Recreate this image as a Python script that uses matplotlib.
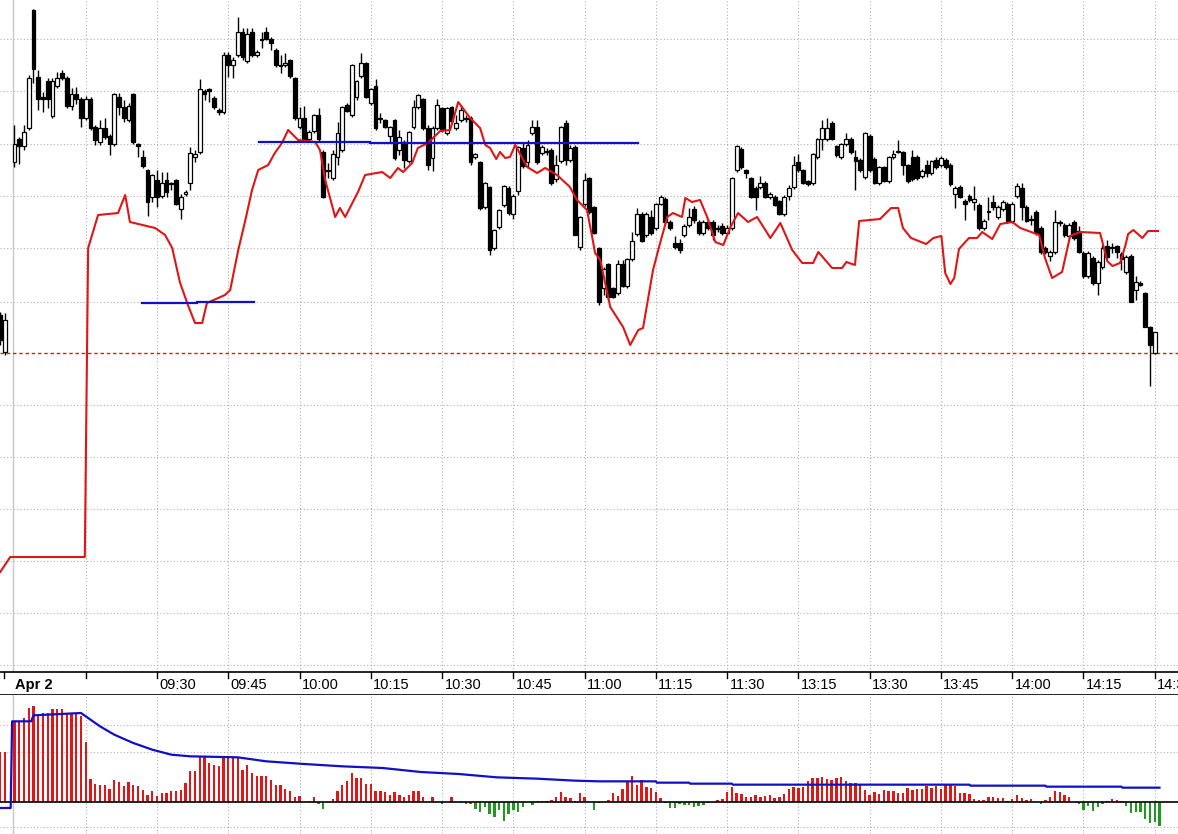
import matplotlib
matplotlib.use("Agg")
import matplotlib.pyplot as plt
import numpy as np

# ---------------- data ----------------
# bar index (1-minute bars); two bars from the previous session, then 0..240
pre_index = [-3, -2]
pre_ohlc = [(685, 688, 655, 660), (648, 687, 645, 680)]

# (open, high, low, close) for bars 0..240
ohlc = [
(838,875,833,856),(861,863,836,854),(854,875,850,868),(872,925,870,922),(990,991,917,931),
(923,930,890,901),(903,908,888,901),(919,922,892,901),(884,922,882,919),(914,928,912,922),
(927,930,920,922),(922,924,892,894),(894,912,890,906),(906,913,896,901),(901,903,873,882),
(882,904,880,901),(901,903,870,872),(873,875,855,860),(858,880,855,872),(872,882,861,863),
(864,866,845,856),(856,907,854,906),(903,907,885,893),(893,900,878,882),(880,897,878,894),
(906,907,856,858),(856,857,843,854),(843,850,832,834),(830,831,784,798),(803,826,798,825),
(820,830,793,803),(804,828,802,817),(820,828,803,808),(817,818,810,816),(820,821,795,796),
(791,806,781,803),(806,810,804,808),(817,853,810,847),(843,850,838,846),(848,921,846,911),
(909,911,900,906),(911,912,898,909),(902,904,891,893),(890,892,885,888),(888,948,886,945),
(945,948,923,935),(935,943,922,940),(945,983,943,968),(968,972,940,943),(939,972,937,966),
(968,972,943,945),(945,950,943,948),(961,968,952,960),(968,973,960,961),(961,963,950,957),
(950,952,933,935),(935,945,927,934),(935,947,933,937),(940,941,922,924),(922,923,880,882),
(873,893,871,882),(882,894,858,861),(861,870,858,868),(869,886,867,885),(885,892,859,861),
(848,850,802,803),(830,837,822,829),(822,850,820,846),(843,878,835,867),(850,894,848,893),
(895,897,888,889),(885,936,883,935),(903,920,900,919),(924,947,922,937),(937,938,902,903),
(897,912,895,911),(914,921,870,872),(882,887,877,881),(880,881,872,873),(864,874,858,873),
(880,881,840,842),(850,870,845,863),(858,860,832,840),(839,869,837,868),(873,900,871,893),
(893,906,891,905),(901,902,870,872),(872,875,830,835),(842,874,829,872),(872,901,870,895),
(892,893,868,870),(867,893,865,892),(893,894,877,879),(872,885,870,877),(880,895,878,890),
(882,885,878,881),(882,884,835,838),(843,847,841,846),(838,839,790,792),(793,818,791,817),
(813,814,745,750),(752,771,750,770),(773,791,771,790),(795,815,793,814),(812,814,785,787),
(786,806,781,804),(809,854,805,853),(852,858,832,834),(838,860,832,855),(867,880,865,873),
(873,880,836,838),(847,855,845,853),(849,852,845,848),(850,852,815,817),(821,845,818,835),
(839,874,837,873),(877,880,835,840),(840,855,838,852),(853,855,765,765),(753,784,750,783),
(796,827,794,820),(822,823,786,788),(793,794,766,767),(752,753,695,698),(712,733,705,731),
(736,737,700,703),(712,713,702,703),(707,740,705,736),(736,740,713,714),(714,742,712,741),
(741,768,739,759),(766,792,764,786),(786,788,758,759),(765,788,763,786),(783,790,765,767),
(772,797,770,796),(796,805,795,803),(801,803,776,778),(778,780,770,772),(757,764,751,753),
(757,761,747,750),(765,776,763,774),(775,792,773,783),(791,794,777,780),(778,780,765,767),
(767,780,765,778),(778,781,770,772),(778,780,760,765),(772,775,768,771),(774,777,765,767),
(767,775,765,772),(772,823,770,822),(830,855,828,854),(851,853,831,833),(830,831,822,827),
(822,823,802,803),(812,814,790,803),(813,824,811,817),(817,819,802,803),(803,808,801,806),
(803,805,794,795),(799,800,785,786),(786,805,784,803),(804,815,800,812),(813,844,811,835),
(838,846,828,830),(830,831,816,817),(819,820,814,816),(817,847,815,846),(843,862,841,861),
(861,880,850,872),(861,882,859,872),(877,879,860,861),(854,855,843,845),(843,857,841,856),
(856,867,854,861),(861,863,846,848),(843,850,810,839),(840,842,828,830),(823,868,821,867),
(864,866,828,830),(841,843,816,817),(817,834,815,833),(833,834,818,819),(819,844,817,843),
(843,850,841,846),(848,860,847,848),(848,849,825,835),(835,836,817,819),(843,850,819,821),
(843,845,820,822),(824,831,822,829),(835,840,823,827),(827,840,825,839),(840,843,831,833),
(835,844,833,842),(840,842,831,833),(835,837,814,816),(806,814,792,812),(813,815,802,803),
(799,801,780,796),(804,806,798,800),(798,814,790,801),(795,797,770,772),(772,781,770,779),
(788,803,780,788),(798,805,790,793),(783,795,781,793),(791,800,789,798),(796,798,777,779),
(779,798,777,796),(804,817,802,814),(812,817,780,793),(793,795,778,779),(780,785,775,780),
(788,790,765,767),(772,774,746,748),(752,754,746,748),(744,750,739,748),(748,790,746,778),
(777,780,774,777),(775,777,763,765),(764,777,762,775),(778,780,760,762),(769,774,747,748),
(747,749,722,724),(724,749,722,747),(742,744,715,717),(717,740,705,738),(733,755,731,752),
(754,760,741,743),(752,757,747,752),(754,755,742,748),(746,748,730,741),(728,745,726,743),
(744,746,698,698),(710,724,700,718),(717,719,714,715),(707,708,673,673),(673,674,614,655),
(647,668,646,668),
]

# red average line vertices (bar index, price)
red_x = [-3,-0.9,14.8,15.5,17.6,21.8,23.3,24.3,29.6,31.7,33.2,34.8,36.5,38.0,39.5,40.5,44.3,45.4,
         47.1,48.5,50.0,51.3,53.4,54.8,56.3,57.6,59.7,63.3,64.3,65.4,67.5,68.5,69.6,72.3,73.8,77.4,
         79.1,80.7,81.8,83.7,84.9,87.0,89.6,91.7,93.4,95.9,98.0,99.1,100.1,101.4,102.2,103.3,104.3,
         105.4,107.9,110.0,111.7,114.2,116.9,118.4,120.5,121.6,122.2,123.3,125.4,128.1,129.6,131.3,
         132.3,134.4,135.5,137.4,138.6,140.5,141.2,142.6,144.3,145.8,147.5,149.2,150.6,152.3,154.4,
         156.3,159.1,161.2,163.7,165.8,168.1,169.2,172.1,174.2,175.1,176.9,177.8,182.2,184.5,186.0,
         187.0,188.7,191.9,193.4,195.1,195.9,197.0,197.8,198.8,200.9,202.6,203.7,205.8,207.5,210.0,
         211.7,215.7,216.9,218.4,220.5,222.2,224.3,228.5,229.2,230.0,231.1,232.7,233.8,234.4,235.5,
         237.4,238.6,240.7]
red_v = [428,443,443,752,785,787,805,778,772,765,752,718,695,677,677,697,705,710,
         750,778,810,830,835,847,857,870,860,858,850,820,783,792,783,808,825,828,
         822,832,828,837,852,857,869,870,898,882,872,855,852,841,848,842,843,
         855,833,827,832,825,813,800,790,763,747,740,693,673,655,670,
         672,730,750,783,787,783,802,798,800,783,758,755,772,787,778,
         783,762,777,750,737,737,748,732,732,738,735,779,781,792,792,
         772,762,756,762,764,727,716,722,751,762,762,768,761,776,778,
         772,765,742,722,728,764,768,767,754,739,734,737,754,766,770,
         762,769,769]

# blue horizontal levels (start bar, end bar, price)
blue_segs = [(26.8, 38.4, 697), (38.4, 50.4, 698), (51.5, 74.8, 858.5), (74.8, 131.3, 857)]
ref_level = 647

# lower panel histogram (bars -3..241)
hist_index_start = -3
hist_vals = [150,150,0,
242,242,252,282,287,262,267,267,279,279,
279,267,267,264,257,180,70,54,52,50,
40,67,60,47,60,50,47,37,22,32,
17,27,27,32,32,37,57,92,92,137,
137,117,112,107,137,137,132,132,97,112,
87,77,77,77,67,52,52,40,32,15,
17,0,2,15,-5,-20,0,10,34,50,
62,87,72,72,54,54,34,32,30,20,
30,20,14,20,34,34,14,0,14,0,
-6,0,14,0,-3,-5,-5,-20,-30,-15,
-35,-45,-25,-58,-35,-25,-30,-15,0,-8,
2,4,2,6,14,30,14,12,4,27,
14,0,-24,-3,0,6,28,18,39,62,
78,51,66,45,42,30,12,-3,-19,-19,
-5,-8,-8,-16,-12,-8,-3,0,6,9,
31,45,28,24,15,15,21,15,19,21,
12,15,24,39,45,42,45,63,72,72,
75,69,66,72,75,63,57,57,51,36,
21,30,24,36,33,33,27,27,42,36,
39,39,48,42,48,39,51,54,48,27,
27,24,9,6,6,15,15,12,12,3,
9,21,12,6,9,0,-7,6,15,33,
30,21,15,0,-7,-24,-12,-26,-14,-6,
4,9,6,3,-11,-32,-29,-29,-51,-64,
-59,-72]

blue_x = [-3,-0.8,-0.5,3.5,4,14,18,21,25,29,33,37,47,53,61,69,77.5,85.5,93.5,101.5,110,118,123,135,
          135.2,142,142.2,151,151.2,184,201,201.2,217,217.2,233,233.2,241]
blue_v = [-18,-18,242,242,260,267,227,202,177,157,142,137,134,122,114,107,102,90,84,74,70,64,62,62,
          58,58,55,55,52,52,52,49,49,46,46,43,43]

tick_pos = [30,45,60,75,90,105,120,135,150,165,180,195,210,225,240]
tick_labels = ["09:30","09:45","10:00","10:15","10:30","10:45","11:00","11:15","11:30",
               "13:15","13:30","13:45","14:00","14:15","14:30"]
date_label = "Apr 2"
price_grid = [961,909,856,804,752,698,595,543,491,439,387,335]
hist_grid = [232,151,-76]

# ---------------- drawing ----------------
W, H = 1178, 834
fig = plt.figure(figsize=(W/100, H/100), dpi=100)
XL = (-3.05, 244.9)

ax = fig.add_axes([0, 162/H, 1, 672/H])
ax.set_xlim(*XL); ax.set_ylim(328, 1000)
for s in ax.spines.values(): s.set_visible(False)
ax.set_xticks([]); ax.set_yticks([])
gc = "#b0b0b0"
for g in price_grid:
    ax.axhline(g, color=gc, lw=0.8, ls=(0, (1, 2)), zorder=0)
for t in [15] + tick_pos:
    ax.axvline(t, color=gc, lw=0.8, ls=(0, (1, 2)), zorder=0)
ax.axvline(-0.3, color="#c8c8c8", lw=1.0, zorder=0)
ax.axhline(ref_level, color="#cc2222", lw=1.0, ls=(0, (2.5, 2)), zorder=1)

xs = pre_index + list(range(len(ohlc)))
data = pre_ohlc + ohlc
o = np.array([d[0] for d in data]); h = np.array([d[1] for d in data])
l = np.array([d[2] for d in data]); c = np.array([d[3] for d in data])
xs = np.array(xs)
ax.vlines(xs, l, h, color="black", lw=1.0, zorder=2)
bot = np.minimum(o, c); ht = np.maximum(np.abs(c - o), 1.2)
up = c >= o
ax.bar(xs[up], ht[up], bottom=bot[up], width=0.8, facecolor="white", edgecolor="black", lw=0.9, zorder=3)
ax.bar(xs[~up], ht[~up], bottom=bot[~up], width=0.8, facecolor="black", edgecolor="black", lw=0.9, zorder=3)

ax.plot(red_x, red_v, color="#e01515", lw=1.5, zorder=4)
for x0, x1, v in blue_segs:
    ax.plot([x0, x1], [v, v], color="#1010c8", lw=1.6, zorder=5)

# time strip
axt = fig.add_axes([0, 139/H, 1, 23/H])
axt.set_xlim(*XL); axt.set_ylim(0, 1)
axt.set_xticks([]); axt.set_yticks([])
for k in ["left", "right"]: axt.spines[k].set_visible(False)
for k in ["top", "bottom"]: axt.spines[k].set_linewidth(1.2)
for t in [-2.3, 15] + tick_pos:
    axt.plot([t, t], [0.72, 1], color="black", lw=1)
for t, lab in zip(tick_pos, tick_labels):
    axt.text(t + 0.5, 0.42, lab, fontsize=10.5, ha="left", va="center", family="Liberation Sans", clip_on=True)
axt.text(0.2, 0.42, date_label, fontsize=10.5, ha="left", va="center", weight="bold", family="Liberation Sans")

# lower panel
axh = fig.add_axes([0, 0, 1, 139/H])
axh.set_xlim(*XL); axh.set_ylim(-96, 321)
for s in axh.spines.values(): s.set_visible(False)
axh.set_xticks([]); axh.set_yticks([])
for g in hist_grid:
    axh.axhline(g, color=gc, lw=0.8, ls=(0, (1, 2)), zorder=0)
for t in [15] + tick_pos:
    axh.axvline(t, color=gc, lw=0.8, ls=(0, (1, 2)), zorder=0)
axh.axvline(-0.3, color="#c8c8c8", lw=1.0, zorder=0)
hx = np.arange(hist_index_start, hist_index_start + len(hist_vals))
hv = np.array(hist_vals)
axh.bar(hx[hv >= 0], hv[hv >= 0], width=0.5, color="#e01515", zorder=2)
axh.bar(hx[hv < 0], hv[hv < 0], width=0.5, color="#1f9a1f", zorder=2)
axh.axhline(0, color="black", lw=1.2, zorder=3)
axh.plot(blue_x, blue_v, color="#1010c8", lw=1.6, zorder=4)

fig.savefig("out.png", dpi=100)
